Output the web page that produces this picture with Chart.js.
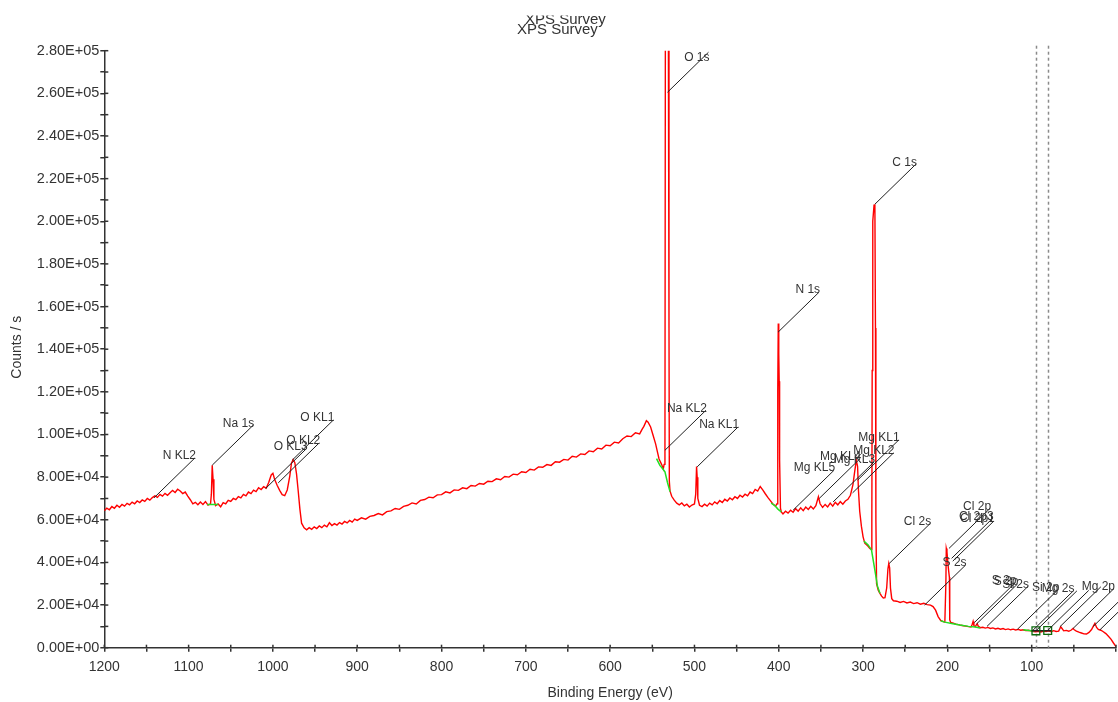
<!DOCTYPE html>
<html lang="en">
<head>
    <meta charset="UTF-8">
    <title>XPS Survey</title>
    <script src="https://cdn.jsdelivr.net/npm/chart.js@4.4.0/dist/chart.umd.min.js"></script>
    <style>
        html, body {
            margin: 0;
            padding: 0;
            background-color: white;
        }
        .chart-container {
            position: relative;
            width: 1118px;
            height: 702px;
        }
    </style>
</head>
<body>
    <div class="chart-container">
        <canvas id="xpsChart"></canvas>
    </div>

    <script>
        // Survey spectrum (binding energy in eV, counts/s)
        const bindingEnergy = [
            1200, 1197, 1194, 1191, 1188, 1185, 1182, 1179, 1176, 1173,
            1170, 1167, 1164, 1161, 1158, 1155, 1152, 1149, 1146, 1143,
            1140, 1137, 1134, 1131, 1128, 1125, 1122, 1119, 1116, 1113,
            1110, 1107, 1104, 1101, 1098, 1095, 1092, 1089, 1086, 1083,
            1080, 1077, 1074, 1073, 1072, 1071, 1070, 1068, 1065, 1062,
            1059, 1056, 1053, 1050, 1047, 1044, 1041, 1038, 1035, 1032,
            1029, 1026, 1023, 1020, 1017, 1014, 1011, 1008, 1005, 1002,
            1000, 998, 995, 992, 989, 986, 983, 980, 978, 976,
            974, 972, 970, 968, 966, 963, 960, 957, 954, 951,
            948, 945, 942, 939, 936, 933, 930, 927, 924, 921,
            918, 915, 912, 909, 906, 903, 900, 895, 890, 885,
            880, 875, 870, 865, 860, 855, 850, 845, 840, 835,
            830, 825, 820, 815, 810, 805, 800, 795, 790, 785,
            780, 775, 770, 765, 760, 755, 750, 745, 740, 735,
            730, 725, 720, 715, 710, 705, 700, 695, 690, 685,
            680, 675, 670, 665, 660, 655, 650, 645, 640, 635,
            630, 625, 620, 615, 610, 605, 600, 595, 590, 585,
            580, 575, 570, 565, 562, 560, 557, 555, 552, 549,
            546, 544, 542, 539, 537, 536, 535, 534.5, 533, 531,
            530.2, 529.8, 529, 527, 524, 521, 518, 515, 512, 509,
            506, 503, 500, 498.5, 497.5, 496.8, 496, 494, 491, 488,
            485, 482, 479, 476, 473, 470, 467, 464, 461, 458,
            455, 452, 449, 446, 443, 440, 437, 434, 431, 428,
            425, 422, 419, 416, 413, 410, 407, 404, 402, 401.2,
            400.6, 400, 399.5, 399, 398, 397, 395, 392, 389, 386,
            383, 380, 377, 374, 371, 368, 365, 362, 359, 356,
            353, 351, 348, 345, 342, 339, 336, 333, 330, 327,
            324, 321, 318, 315, 312, 310, 308, 306.5, 305.5, 304,
            302, 300, 298, 295, 292, 290, 289.6, 289.2, 288.5, 287,
            286, 285.3, 284.8, 284, 282, 280, 278, 276, 274, 272,
            270.5, 269.5, 268.5, 267.5, 266, 264, 260, 256, 252, 248,
            244, 240, 236, 232, 228, 224, 220, 217, 214, 211,
            208, 205, 203, 201.8, 201.3, 200.5, 199.5, 198.5, 197.6, 197.2,
            196, 193, 190, 187, 184, 181, 178, 175, 172, 170.5,
            169.5, 168.5, 167, 165.5, 164.5, 163.5, 161, 158, 155, 152,
            149, 146, 143, 140, 137, 134, 131, 128, 125, 122,
            119, 116, 113, 110, 107, 104, 101, 98, 95, 92,
            89, 86, 83, 80, 77, 74, 71, 68, 65.5, 64,
            62, 59, 56, 53, 51, 49.5, 47, 44, 41, 38,
            35, 32, 29, 27, 25, 23, 21, 18, 15, 12,
            9, 6, 3, 0
        ];
        const counts = [
            64200, 65500, 64700, 66200, 65400, 66800, 65900, 67200, 66400, 67700,
            67000, 68300, 67500, 68800, 68100, 69300, 68600, 70000, 69200, 70400,
            71200, 70500, 71900, 71100, 72400, 71500, 72700, 73800, 72800, 74300,
            73500, 72300, 73000, 71100, 69400, 67500, 68200, 67000, 68300, 67200,
            68500, 66900, 67500, 72000, 85600, 79000, 69500, 66600, 67400, 66100,
            68000, 67500, 69100, 68600, 70000, 69400, 70900, 70300, 71900, 71200,
            73000, 72300, 73900, 73200, 75000, 74200, 75500, 74800, 77500, 81000,
            81800, 79000, 76200, 73800, 71800, 71300, 74000, 80500, 86500, 88200,
            86800, 81500, 73500, 65000, 58400, 56200, 55300, 56300, 55500, 56700,
            55900, 57100, 56300, 57500, 56700, 58600, 57300, 58200, 57500, 58700,
            58000, 59200, 58500, 59700, 58900, 60300, 59700, 60900, 60300, 61600,
            62000, 62900, 62300, 63800, 64200, 65300, 64900, 66300, 66800, 67900,
            67400, 69100, 69500, 70600, 70300, 71700, 71800, 73100, 72600, 74000,
            73800, 75000, 74600, 76100, 75800, 77000, 76700, 78100, 77900, 79200,
            78800, 80300, 80000, 81400, 81100, 82500, 82200, 83700, 83300, 84800,
            84600, 85900, 85500, 87200, 87000, 88300, 88000, 89800, 89400, 90900,
            90600, 92300, 91900, 93600, 93200, 95000, 94700, 96400, 96000, 98000,
            99300, 99000, 100800, 100300, 102500, 103800, 106500, 105800, 103500, 99500,
            95500, 92000, 88500, 86000, 83800, 86000, 95000, 290000, 315000, 300000,
            150000, 78000, 73500, 71000, 69200, 67800, 67000, 67900, 66500, 67300,
            66000, 66900, 67400, 72000, 85000, 80000, 70000, 66800, 66200, 67300,
            66400, 67800, 67000, 68400, 67500, 69000, 68100, 69600, 68800, 70200,
            69400, 70800, 70000, 71500, 70700, 72000, 71200, 73000, 72300, 74200,
            73500, 75600, 74000, 72200, 70500, 69000, 67400, 66400, 67500, 120000,
            152000, 138000, 125000, 88000, 65500, 63700, 62700, 64000, 63100, 64500,
            63500, 65200, 64000, 65600, 64300, 66000, 64800, 66300, 65100, 66600,
            70800, 67500, 65800, 67200, 66000, 67800, 66400, 68200, 67000, 68500,
            67300, 68800, 69600, 71500, 76500, 82500, 88000, 85000, 74000, 64000,
            57000, 52000, 49000, 48000, 46500, 46000, 60000, 130000, 200000, 207500,
            208000, 150000, 60000, 30000, 27000, 25500, 24200, 23300, 23500, 28000,
            37000, 39500, 37500, 28000, 23000, 22000, 21800, 21200, 21700, 21000,
            21400, 20700, 21100, 20400, 20800, 20200, 20000, 19300, 17600, 14600,
            12800, 12200, 12000, 30000, 46500, 45000, 40000, 36000, 33000, 13000,
            11800, 11500, 11000, 10800, 10500, 10300, 10100, 9900, 9700, 11000,
            12300, 10300, 9800, 10800, 11200, 10200, 9400, 9600, 9200, 9500,
            9000, 9300, 8800, 9100, 8700, 9000, 8500, 8800, 8400, 8700,
            8300, 8600, 8200, 8400, 8000, 8200, 7900, 7600, 7500, 7700,
            7400, 7800, 7600, 7900, 7500, 8000, 7600, 7800, 9800, 9000,
            7900, 8100, 7700, 8300, 9000, 8400, 7800, 7300, 6900, 6500,
            6400, 7200, 8500, 10000, 11400, 9500, 8600, 8200, 7500, 6600,
            5400, 4000, 2200, 500
        ];

        // Background (green) regions; a null count breaks the line
        const bgEnergy = [1078, 1065, 800, 545, 541, 537, 535, 532, 529, 450,
                          409, 405, 401, 397, 350, 299, 294, 290, 286, 283,
                          280, 250, 208, 203, 195, 185, 175, 167, 161, 130,
                          110, 103, 97];
        const bgCounts = [67200, 67200, null, 88700, 85500, 83600, 82500, 77500, 73200, null,
                          67800, 66800, 65000, 63700, null, 50000, 48200, 45800, 36400, 29000,
                          25500, null, 12600, 12000, 11300, 10600, 10000, 9700, 9200, null,
                          8400, 8100, 7800];

        // Fit baseline and the two cursor markers
        const fitEnergy = [100, 76];
        const fitCounts = [8000, 8000];
        const cursorEnergy = [95, 81];
        const cursorCounts = [7900, 8100];

        // Peak identifications (leader starts on the spectrum)
        const labelText = ['N KL2', 'Na 1s', 'O KL3', 'O KL2', 'O KL1', 'Na KL2', 'O 1s', 'Na KL1',
                           'N 1s', 'Mg KL5', 'Mg KL4', 'Mg KL3', 'Mg KL2', 'Mg KL1', 'C 1s', 'Cl 2s',
                           'S 2s', 'Cl 2p', 'Cl 2p3', 'Cl 2p1', 'S 2p', 'S 2p', 'Si 2s', 'Si 2p',
                           'Mg 2s', '', '', '', 'Mg 2p', '', ''];
        const labelEnergy = [1141, 1072, 1008.6, 993.7, 977, 535, 532, 496.8,
                             400.8, 383, 352, 335.5, 312.5, 306.5, 286, 269,
                             227, 198, 195, 193.6, 168, 165.5, 153, 117,
                             99, 95, 81, 66.6, 51, 27, 19];
        const labelCounts = [70300, 85600, 74700, 77300, 88000, 92600, 260500, 84800,
                             148000, 64500, 70000, 68400, 72600, 78600, 208000, 39500,
                             20000, 46600, 41900, 40600, 11800, 11100, 10000, 8600,
                             8000, 7900, 8100, 9800, 9000, 10000, 8400];

        const FONT = '"Liberation Sans", Arial, sans-serif';
        const AXIS_COLOR = '#333';

        function sciLabel(value) {
            const parts = value.toExponential(2).split('e');
            const exp = parseInt(parts[1], 10);
            return parts[0] + 'E' + (exp < 0 ? '-' : '+') + String(Math.abs(exp)).padStart(2, '0');
        }

        function toPoints(xs, ys) {
            return xs.map((x, i) => ({ x: x, y: ys[i] }));
        }

        // Cursor lines, peak labels, inner tick marks and titles
        const overlayPlugin = {
            id: 'overlay',
            beforeDatasetsDraw(chart) {
                const ctx = chart.ctx;
                const xs = chart.scales.x;
                const area = chart.chartArea;
                ctx.save();
                ctx.strokeStyle = '#8a8a8a';
                ctx.lineWidth = 1.5;
                ctx.setLineDash([3, 3]);
                cursorEnergy.forEach(e => {
                    const x = Math.round(xs.getPixelForValue(e)) + 0.5;
                    ctx.beginPath();
                    ctx.moveTo(x, area.top - 5);
                    ctx.lineTo(x, area.bottom);
                    ctx.stroke();
                });
                ctx.restore();
            },
            afterDatasetsDraw(chart) {
                const ctx = chart.ctx;
                const xs = chart.scales.x;
                const ys = chart.scales.y;
                const area = chart.chartArea;

                ctx.save();
                ctx.strokeStyle = '#1e1e1e';
                ctx.lineWidth = 1;
                ctx.fillStyle = '#333';
                ctx.font = '12px ' + FONT;
                ctx.textAlign = 'right';
                ctx.textBaseline = 'middle';
                labelText.forEach((text, i) => {
                    const x0 = xs.getPixelForValue(labelEnergy[i]);
                    const y0 = ys.getPixelForValue(labelCounts[i]);
                    const x1 = x0 + 41;
                    const y1 = y0 - 40;
                    ctx.beginPath();
                    ctx.moveTo(x0, y0);
                    ctx.lineTo(x1, y1);
                    ctx.stroke();
                    // keep the text inside the plot at the top
                    if (text) ctx.fillText(text, x1 + 1, Math.max(y1 - 2, area.top + 7));
                });
                ctx.restore();

                // tick marks that reach into the plot
                ctx.save();
                ctx.strokeStyle = AXIS_COLOR;
                ctx.lineWidth = 1.5;
                xs.ticks.forEach(t => {
                    const x = xs.getPixelForValue(t.value);
                    ctx.beginPath();
                    ctx.moveTo(x, area.bottom);
                    ctx.lineTo(x, area.bottom - 3);
                    ctx.stroke();
                });
                ys.ticks.forEach(t => {
                    const y = ys.getPixelForValue(t.value);
                    ctx.beginPath();
                    ctx.moveTo(area.left, y);
                    ctx.lineTo(area.left + 4, y);
                    ctx.stroke();
                });
                ctx.restore();
            },
            afterDraw(chart) {
                const ctx = chart.ctx;
                const area = chart.chartArea;
                ctx.save();
                ctx.fillStyle = '#333';
                ctx.font = '15px ' + FONT;
                ctx.textAlign = 'left';
                ctx.textBaseline = 'alphabetic';
                ctx.fillText('XPS Survey', 517, 33.5);
                ctx.save();
                ctx.beginPath();
                ctx.rect(0, 15.5, chart.width, 30);
                ctx.clip();
                ctx.fillText('XPS Survey', 525, 23.5);
                ctx.restore();

                ctx.font = '14px ' + FONT;
                ctx.textAlign = 'center';
                ctx.fillText('Binding Energy (eV)', (area.left + area.right) / 2, 697);

                ctx.translate(21, (area.top + area.bottom) / 2 - 2);
                ctx.rotate(-Math.PI / 2);
                ctx.fillText('Counts / s', 0, 0);
                ctx.restore();
            }
        };

        const ctx = document.getElementById('xpsChart').getContext('2d');
        const chart = new Chart(ctx, {
            type: 'line',
            data: {
                datasets: [
                    {
                        label: 'Cursors',
                        data: toPoints(cursorEnergy, cursorCounts),
                        showLine: false,
                        pointStyle: 'rect',
                        pointRadius: 5.5,
                        pointBorderWidth: 1.3,
                        pointBorderColor: '#0b6b0b',
                        pointBackgroundColor: 'rgba(0,0,0,0)',
                        order: 0
                    },
                    {
                        label: 'Fit',
                        data: toPoints(fitEnergy, fitCounts),
                        borderColor: '#222',
                        borderWidth: 1.5,
                        pointRadius: 0,
                        order: 1
                    },
                    {
                        label: 'Background',
                        data: toPoints(bgEnergy, bgCounts),
                        borderColor: '#22e022',
                        borderWidth: 1.5,
                        pointRadius: 0,
                        spanGaps: false,
                        order: 2
                    },
                    {
                        label: 'Survey',
                        data: toPoints(bindingEnergy, counts),
                        borderColor: '#ff0000',
                        borderWidth: 1.4,
                        pointRadius: 0,
                        order: 3
                    }
                ]
            },
            options: {
                responsive: true,
                maintainAspectRatio: false,
                animation: false,
                layout: {
                    autoPadding: false,
                    padding: { top: 50.7, right: 2, left: 0, bottom: 0 }
                },
                elements: {
                    line: { tension: 0 }
                },
                plugins: {
                    legend: { display: false },
                    tooltip: { enabled: false },
                    title: { display: false }
                },
                scales: {
                    x: {
                        type: 'linear',
                        reverse: true,
                        min: 0,
                        max: 1200,
                        afterFit: function(scale) {
                            scale.height = 54.3;
                            scale.paddingLeft = 0;
                            scale.paddingRight = 0;
                        },
                        border: { color: AXIS_COLOR, width: 1.5 },
                        grid: { drawOnChartArea: false, tickLength: 4, color: AXIS_COLOR, lineWidth: 1.5 },
                        ticks: {
                            stepSize: 50,
                            autoSkip: false,
                            maxRotation: 0,
                            padding: 7,
                            color: '#333',
                            font: { family: FONT, size: 14 },
                            callback: function(value) {
                                return (value % 100 === 0 && value > 0) ? String(value) : '';
                            }
                        }
                    },
                    y: {
                        min: 0,
                        max: 280000,
                        afterFit: function(scale) {
                            scale.width = 104.3;
                            scale.paddingTop = 0;
                            scale.paddingBottom = 0;
                        },
                        border: { color: AXIS_COLOR, width: 1.5 },
                        grid: { drawOnChartArea: false, tickLength: 4, color: AXIS_COLOR, lineWidth: 1.5 },
                        ticks: {
                            stepSize: 10000,
                            autoSkip: false,
                            padding: 1,
                            color: '#333',
                            font: { family: FONT, size: 14.5 },
                            callback: function(value) {
                                return value % 20000 === 0 ? sciLabel(value) : '';
                            }
                        }
                    }
                }
            },
            plugins: [overlayPlugin]
        });
    </script>
</body>
</html>
